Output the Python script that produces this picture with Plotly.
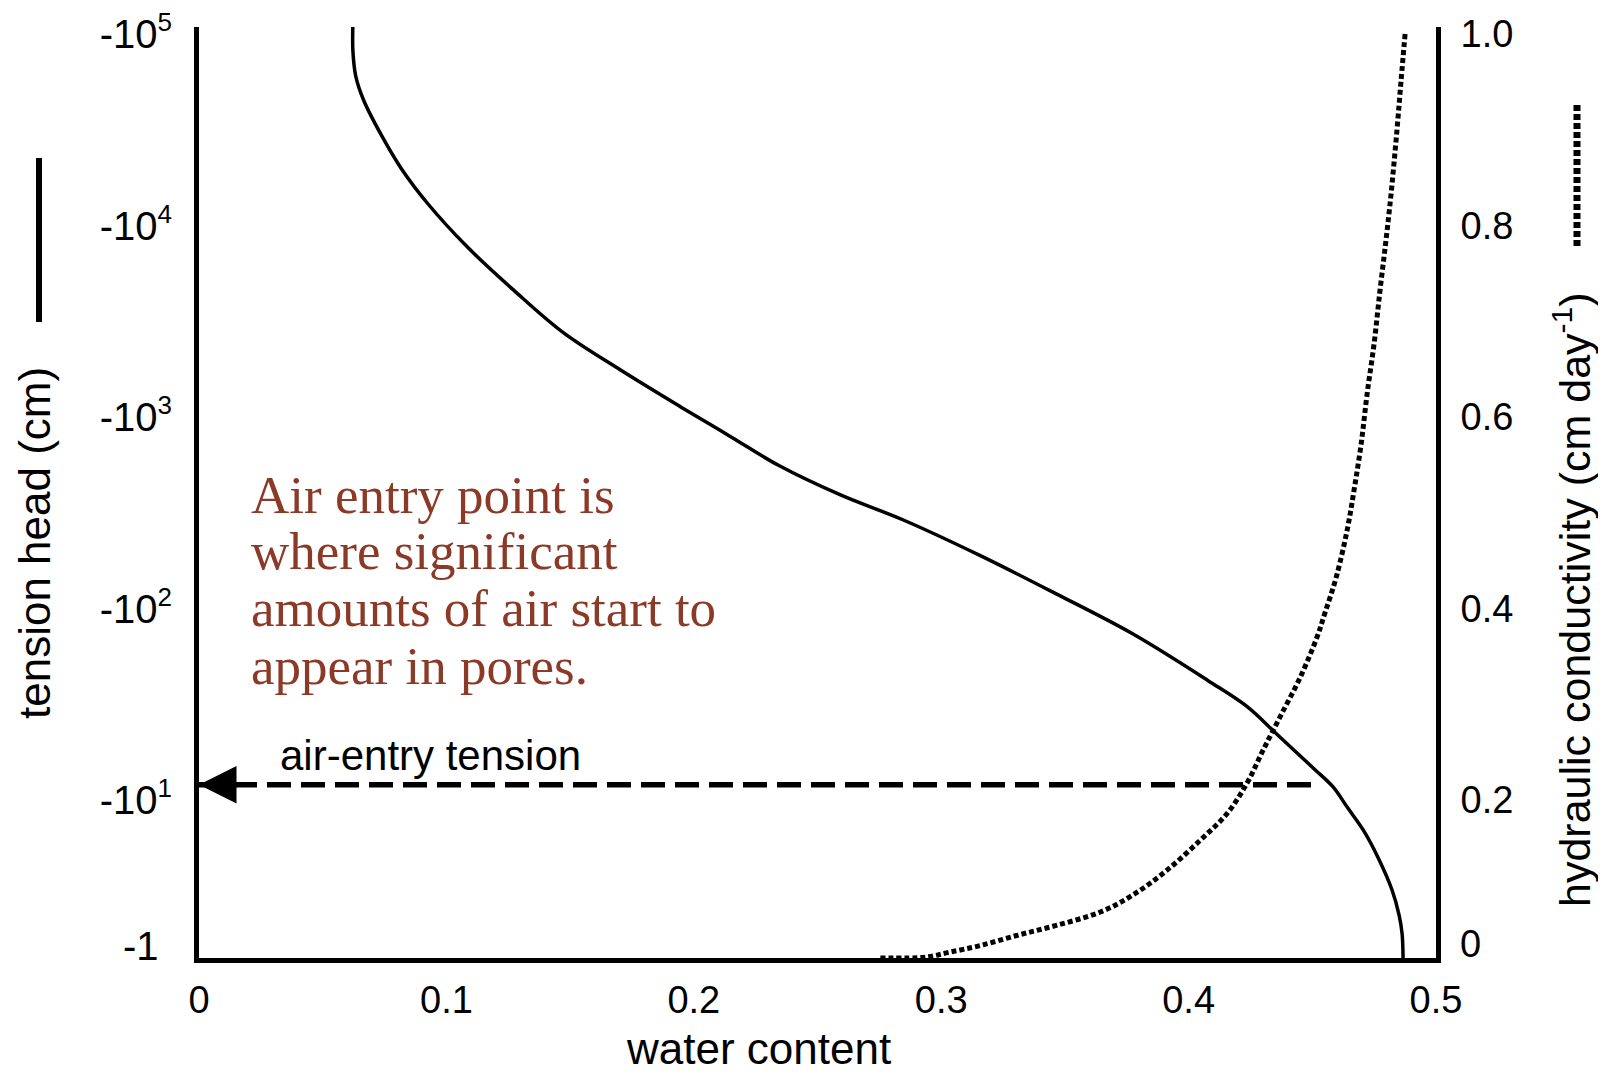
import math
import plotly.graph_objects as go

# ---------------- data ----------------
# Water-retention curve (solid): water content vs tension head (cm, negative)
theta_retention = [0.0622, 0.0622, 0.0634, 0.0666, 0.0735, 0.0816, 0.0925, 0.1086,
                   0.1272, 0.1474, 0.1704, 0.1947, 0.2149, 0.2342, 0.2593, 0.2847,
                   0.3154, 0.3461, 0.3772, 0.4079, 0.4233, 0.4358, 0.4511, 0.4584,
                   0.4643, 0.4705, 0.4766, 0.4822, 0.4851, 0.4863, 0.4867]
tension_head_cm = [-112000, -82000, -60000, -45000, -30000, -20000, -13000, -7700,
                   -4600, -2750, -1760, -1130, -790, -560, -392, -290,
                   -190, -120, -74, -42, -31, -22, -14.4, -11.7,
                   -9.1, -7.0, -5.0, -3.4, -2.5, -2.0, -1.45]

# Hydraulic conductivity curve (dotted): water content vs K (cm/day)
theta_conductivity = [0.4875, 0.4859, 0.4842, 0.4818, 0.4798, 0.4774, 0.4750, 0.4721,
                      0.4697, 0.4669, 0.4641, 0.4596, 0.4552, 0.4519, 0.4451, 0.4370,
                      0.4301, 0.4237, 0.4156, 0.4047, 0.3914, 0.3776, 0.3643, 0.3465,
                      0.3312, 0.3158, 0.3033, 0.2940, 0.2754]
conductivity_cm_day = [1.0, 0.952, 0.899, 0.832, 0.785, 0.733, 0.677, 0.623,
                       0.571, 0.524, 0.482, 0.432, 0.396, 0.370, 0.328, 0.287,
                       0.252, 0.218, 0.186, 0.158, 0.127, 0.101, 0.083, 0.069,
                       0.059, 0.048, 0.041, 0.036, 0.035]

# Air-entry tension line
air_entry_head_cm = -12
air_entry_theta = [0.0, 0.4507]

# Tick labels
x_tickvals = [0, 0.1, 0.2, 0.3, 0.4, 0.5]
x_ticktext = ["0", "0.1", "0.2", "0.3", "0.4", "0.5"]
head_tickvals = [10, 100, 1000, 10000, 100000]
head_exponents = ["1", "2", "3", "4", "5"]
k_tickvals = [0.2, 0.4, 0.6, 0.8, 1.0]
k_ticktext = ["0.2", "0.4", "0.6", "0.8", "1.0"]

note_lines = ["Air entry point is", "where significant",
              "amounts of air start to", "appear in pores."]

# ---------------- layout geometry (page pixels) ----------------
OFF = 8                      # default body margin of the html page
FIG_W, FIG_H = 1590, 1067
PL, PT, PR, PB = 199, 27, 1436, 958


def xp(x):
    return (x - PL) / (PR - PL)


def yp(y):
    return (PB - y) / (PB - PT)


SANS = "Liberation Sans, Arial, sans-serif"
SERIF = "Liberation Serif, Times New Roman, serif"
BROWN = "#8c3a28"

head_ticktext = ["-10<sup><span style='font-size:26px'>%s</span></sup>" % e
                 for e in head_exponents]

fig = go.Figure()

fig.add_trace(go.Scatter(
    x=theta_retention, y=[-h for h in tension_head_cm], mode="lines",
    line=dict(color="black", width=3.5, shape="spline", smoothing=1.0),
    yaxis="y", hoverinfo="skip"))

fig.add_trace(go.Scatter(
    x=theta_conductivity, y=conductivity_cm_day, mode="lines",
    line=dict(color="black", width=5, dash="5px,3px", shape="spline", smoothing=1.0),
    yaxis="y2", hoverinfo="skip"))

fig.add_trace(go.Scatter(
    x=air_entry_theta, y=[-air_entry_head_cm] * 2, mode="lines",
    line=dict(color="black", width=5.5, dash="24px,10px"), yaxis="y",
    hoverinfo="skip"))

annotations = []
# arrow head at the axis
annotations.append(dict(
    x=0, y=math.log10(-air_entry_head_cm), xref="x", yref="y", text="",
    showarrow=True, arrowhead=2, arrowsize=1.5, arrowwidth=5,
    arrowcolor="black", ax=40, ay=0, standoff=0))

centers = [495, 551, 608, 666]
for line, cy in zip(note_lines, centers):
    annotations.append(dict(
        x=xp(249), y=yp(cy), xref="paper", yref="paper", text=line,
        showarrow=False, xanchor="left", yanchor="middle",
        font=dict(family=SERIF, size=53, color=BROWN)))

annotations.append(dict(
    x=xp(278), y=yp(755), xref="paper", yref="paper", text="air-entry tension",
    showarrow=False, xanchor="left", yanchor="middle",
    font=dict(family=SANS, size=42, color="black")))

# axis titles
annotations.append(dict(
    x=xp(758), y=yp(PB + FIG_H - (PB - OFF)), xref="paper", yref="paper",
    text="water content",
    showarrow=False, xanchor="center", yanchor="bottom",
    font=dict(family=SANS, size=44, color="black")))
annotations.append(dict(
    x=xp(35), y=yp(543), xref="paper", yref="paper", text="tension head (cm)",
    showarrow=False, xanchor="center", yanchor="middle", textangle=-90,
    font=dict(family=SANS, size=44, color="black")))
annotations.append(dict(
    x=xp(1572), y=yp(600), xref="paper", yref="paper",
    text="hydraulic conductivity (cm day<sup>-1</sup>)",
    showarrow=False, xanchor="center", yanchor="middle", textangle=-90,
    font=dict(family=SANS, size=43, color="black")))

# end labels at the axis corners
annotations.append(dict(
    x=xp(161), y=yp(946), xref="paper", yref="paper", text="-1",
    showarrow=False, xanchor="right", yanchor="middle",
    font=dict(family=SANS, size=40, color="black")))
annotations.append(dict(
    x=xp(1458), y=yp(944), xref="paper", yref="paper", text="0",
    showarrow=False, xanchor="left", yanchor="middle",
    font=dict(family=SANS, size=38, color="black")))

shapes = [
    dict(type="line", xref="paper", yref="paper", x0=xp(39), x1=xp(39),
         y0=yp(158), y1=yp(322), line=dict(color="black", width=6)),
    dict(type="line", xref="paper", yref="paper", x0=xp(1577), x1=xp(1577),
         y0=yp(105), y1=yp(248), line=dict(color="black", width=7, dash="6px,3px")),
]

axis_common = dict(showgrid=False, zeroline=False, showline=True, linewidth=5,
                   linecolor="black", ticks="", fixedrange=True,
                   ticklabeloverflow="allow")

fig.update_layout(
    width=FIG_W, height=FIG_H,
    margin=dict(l=PL - OFF, t=PT - OFF, r=FIG_W - (PR - OFF), b=FIG_H - (PB - OFF),
                pad=0, autoexpand=False),
    paper_bgcolor="white", plot_bgcolor="white", showlegend=False,
    xaxis=dict(range=[0, 0.5], tickvals=x_tickvals, ticktext=x_ticktext,
               tickfont=dict(family=SANS, size=38, color="black"),
               ticklabelstandoff=4, **axis_common),
    yaxis=dict(type="log", range=[0.175, 5.037], tickvals=head_tickvals,
               ticktext=head_ticktext,
               tickfont=dict(family=SANS, size=40, color="black"),
               ticklabelstandoff=14, **axis_common),
    yaxis2=dict(range=[0.035, 1.0073], tickvals=k_tickvals, ticktext=k_ticktext,
                overlaying="y", side="right",
                tickfont=dict(family=SANS, size=38, color="black"),
                ticklabelstandoff=12, **axis_common),
    annotations=annotations, shapes=shapes,
)

fig.write_html("out.html")
